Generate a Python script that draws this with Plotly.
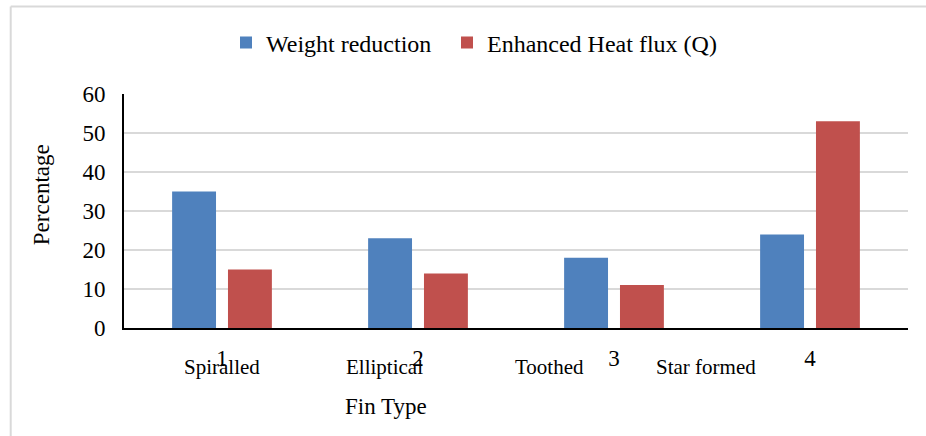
import plotly.graph_objects as go

categories = ["1", "2", "3", "4"]
fin_names = ["Spiralled", "Elliptical", "Toothed", "Star formed"]
fin_name_pos = [0.0, 0.83, 1.67, 2.47]
weight_reduction = [35, 23, 18, 24]
heat_flux = [15, 14, 11, 53]
y_ticks = [0, 10, 20, 30, 40, 50, 60]

FONT = "Liberation Serif"

fig = go.Figure()
fig.add_trace(go.Bar(x=categories, y=weight_reduction, name="Weight reduction",
                     marker=dict(color="#4F81BD", line=dict(width=0)), legend="legend"))
fig.add_trace(go.Bar(x=categories, y=heat_flux, name="Enhanced Heat flux (Q)",
                     marker=dict(color="#C0504D", line=dict(width=0)), legend="legend2"))

annotations = []
for name, pos in zip(fin_names, fin_name_pos):
    annotations.append(dict(x=pos, y=-0.165, xref="x", yref="paper", text=name,
                            showarrow=False, xanchor="center", yanchor="middle",
                            font=dict(family=FONT, size=21, color="black")))
annotations.append(dict(x=(385.5 - 124) / 784, y=(328 - 406.7) / 234, xref="paper", yref="paper",
                        text="Fin Type", showarrow=False, xanchor="center", yanchor="middle",
                        font=dict(family=FONT, size=23, color="black")))
annotations.append(dict(x=(41.7 - 124) / 784, y=(328 - 194.5) / 234, xref="paper", yref="paper",
                        text="Percentage", showarrow=False, xanchor="center", yanchor="middle",
                        textangle=-90, font=dict(family=FONT, size=23, color="black")))

shapes = [
    dict(type="line", xref="paper", yref="paper",
         x0=(10.7 - 124) / 784, x1=(10.7 - 124) / 784, y0=(328 - 6.5) / 234, y1=(328 - 440) / 234,
         line=dict(color="#D9D9D9", width=2)),
    dict(type="line", xref="paper", yref="paper",
         x0=(10.7 - 124) / 784, x1=(930 - 124) / 784, y0=(328 - 6.5) / 234, y1=(328 - 6.5) / 234,
         line=dict(color="#D9D9D9", width=2)),
]

legend_common = dict(orientation="h", xanchor="left", yanchor="middle", y=(328 - 43) / 234,
                     font=dict(family=FONT, size=24, color="black"), itemwidth=30,
                     bgcolor="rgba(0,0,0,0)")

fig.update_layout(
    width=926, height=436,
    margin=dict(l=124, r=18, t=94, b=108),
    paper_bgcolor="white", plot_bgcolor="white",
    font=dict(family=FONT, size=23, color="black"),
    barmode="group", bargap=0.43, bargroupgap=0.214,
    showlegend=True,
    legend=dict(x=(226 - 124) / 784, **legend_common),
    legend2=dict(x=(447 - 124) / 784, **legend_common),
    annotations=annotations,
    shapes=shapes,
    xaxis=dict(type="category", showline=True, linecolor="black", linewidth=2,
               showgrid=False, ticks="", tickfont=dict(family=FONT, size=23, color="black"),
               ticklabelstandoff=8),
    yaxis=dict(range=[0, 60], tickvals=y_ticks, showline=True, linecolor="black", linewidth=2,
               showgrid=True, gridcolor="#D9D9D9", gridwidth=2, zeroline=False, ticks="",
               tickfont=dict(family=FONT, size=23, color="black"), ticklabelstandoff=12),
)

fig.write_html("out.html")
